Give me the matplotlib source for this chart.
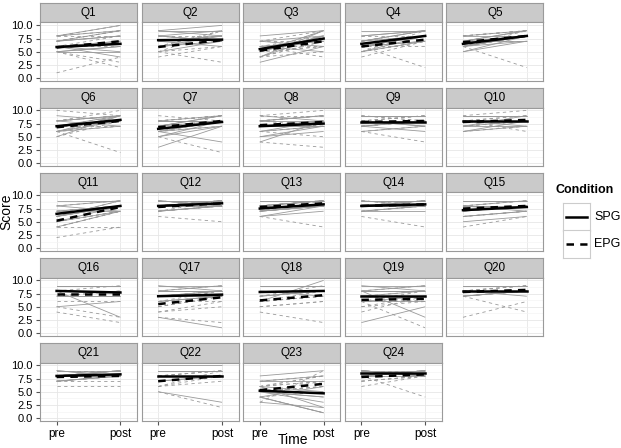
import numpy as np
import matplotlib
matplotlib.use('Agg')
import matplotlib.pyplot as plt

plt.rcParams['font.family'] = ['Liberation Sans', 'DejaVu Sans']

questions = ['Q%d' % i for i in range(1, 25)]
times = ['pre', 'post']

# individual participants (integer scores 0-10), one row per question
spg_pre = [[5,6,7,8,6,5,7,6,8,7,5,6],[7,8,9,6,7,8,5,9,9,6,8,7],[5,6,4,7,5,6,8,4,6,5,7,3],
           [6,7,5,8,6,7,6,9,7,5,8,6],[6,7,5,8,6,7,7,6,7,6,8,5],[7,6,8,9,7,6,5,8,6,8,7,7],
           [3,6,7,8,6,5,7,8,5,7,8,6],[4,6,7,8,9,7,5,8,7,6,8,5],[8,7,9,6,8,9,7,8,9,8,7,8],
           [8,7,9,8,6,9,8,7,9,7,8,6],[4,5,6,7,8,9,6,7,8,6,5,7],[8,9,7,8,9,8,7,9,8,7,9,8],
           [7,8,9,7,8,6,8,7,8,7,9,6],[8,9,7,8,9,7,8,8,9,8,7,8],[7,8,6,9,7,5,8,8,6,8,7,9],
           [8,9,7,8,9,5,8,9,8,7,9,8],[7,8,9,6,8,3,7,8,8,7,9,6],[8,9,7,8,9,6,8,8,7,8,9,8],
           [7,9,8,6,2,8,7,9,8,7,6,8],[8,9,7,8,9,8,7,8,9,8,7,8],[8,9,7,8,9,8,7,8,8,9,8,7],
           [8,9,7,5,9,8,8,10,9,8,7,8],[6,5,4,7,8,5,3,4,5,6,4,7],[8,9,8,9,8,9,8,9,8,9,9,8]]
spg_post = [[6,7,9,10,4,6,8,5,9,8,5,7],[8,7,10,7,6,9,7,8,9,8,7,8],[8,7,9,6,8,5,9,8,7,9,8,6],
            [8,9,7,9,8,8,7,9,9,8,9,7],[8,9,7,9,8,8,7,8,9,7,8,8],[8,9,9,8,8,7,9,7,8,9,8,9],
            [7,8,9,8,4,7,9,8,8,8,9,7],[8,7,8,9,8,7,6,9,7,8,8,7],[8,8,9,7,8,9,6,7,9,7,8,8],
            [8,9,9,7,8,9,8,7,9,8,8,7],[7,8,9,8,7,9,8,7,9,8,7,8],[9,8,8,9,8,9,8,9,9,8,9,8],
            [8,9,9,8,8,7,9,8,9,8,9,8],[8,9,8,9,8,7,9,8,9,8,8,9],[8,9,7,9,8,6,8,7,7,8,8,9],
            [8,9,7,8,9,6,3,9,8,7,9,8],[8,9,8,7,8,1,7,8,8,8,9,7],[8,9,8,8,9,10,7,8,8,8,9,8],
            [7,8,9,6,5,3,8,9,8,7,7,8],[8,9,8,8,9,7,8,8,9,8,8,8],[8,9,8,9,8,9,8,8,9,8,9,8],
            [8,9,8,3,9,8,8,10,9,8,8,8],[5,3,1,8,9,4,2,6,4,2,1,7],[9,8,9,8,9,8,9,8,9,8,9,8]]
epg_pre = [[1,5,6,8,7,6,8,7,6,8,5,7],[6,5,7,6,8,4,6,5,7,5,6,8],[4,5,6,7,5,4,6,5,5,6,7,4],
           [5,6,7,6,8,4,7,5,6,5,7,6],[7,6,8,7,6,8,6,7,7,6,8,7],[6,7,8,10,5,7,6,8,7,6,8,6],
           [7,8,6,5,7,8,6,9,7,6,8,7],[7,6,8,9,4,7,8,8,7,8,6,9],[8,7,9,6,8,9,7,6,8,9,7,8],
           [8,7,9,6,8,9,7,8,7,8,9,8],[2,4,5,6,5,7,4,8,6,5,7,4],[7,8,6,9,8,7,8,9,8,7,9,8],
           [8,9,7,6,8,9,8,8,7,8,9,8],[8,9,7,6,9,8,8,9,8,9,7,8],[8,9,7,4,8,6,9,8,7,8,8,6],
           [7,8,9,4,6,8,5,7,8,9,7,8],[5,6,4,3,7,5,8,6,5,6,7,4],[6,7,5,4,8,6,7,6,7,6,5,6],
           [6,7,5,8,6,4,7,6,7,6,5,8],[8,9,7,3,8,9,7,8,8,9,8,7],[8,7,9,6,8,9,7,8,8,7,8,9],
           [7,8,5,6,9,7,8,6,8,7,6,9],[5,6,4,7,5,6,3,5,6,5,4,6],[7,8,6,9,8,8,7,9,8,7,9,8]]
epg_post = [[4,2,7,9,8,6,10,9,8,8,3,9],[7,3,8,9,8,6,7,9,8,6,9,7],[7,6,8,9,6,7,4,9,8,6,7,5],
            [7,8,9,2,8,7,8,9,8,7,9,6],[8,9,9,7,2,9,8,8,9,8,9,8],[2,8,9,9,8,7,8,10,9,8,9,7],
            [8,9,7,2,8,9,8,8,9,8,9,8],[8,5,9,10,3,8,7,9,8,9,7,9],[9,8,8,4,8,9,8,7,9,8,8,9],
            [9,8,9,7,8,10,8,6,8,9,9,8],[4,4,8,9,7,8,7,9,8,7,8,7],[9,8,5,9,9,8,9,8,9,8,9,9],
            [9,9,8,4,8,9,9,8,9,8,9,9],[9,9,8,4,8,9,8,9,9,8,8,8],[8,9,8,6,9,7,9,8,8,9,8,7],
            [8,9,9,2,6,8,3,7,8,9,8,8],[7,8,6,2,8,7,9,7,7,6,8,5],[7,8,6,2,8,8,9,7,8,7,6,7],
            [7,8,6,9,1,7,6,8,7,6,7,8],[9,9,8,6,8,9,4,9,9,9,8,8],[8,8,9,6,8,9,7,9,8,8,9,9],
            [8,9,2,8,9,8,9,9,9,8,7,9],[7,8,1,8,6,7,9,6,7,6,5,8],[8,9,8,9,8,4,8,9,9,8,8,9]]

# condition means
spg_mean_pre = [5.9,7.2,5.5,6.5,6.5,7.0,6.5,7.0,7.8,8.0,6.5,8.0,7.5,8.0,7.2,8.0,7.0,7.8,7.0,8.0,8.0,8.0,5.2,8.5]
spg_mean_post = [6.5,7.3,7.5,8.0,8.0,8.2,7.8,7.5,7.8,8.0,8.0,8.5,8.3,8.3,7.8,7.7,7.3,8.0,7.0,8.0,8.3,8.0,4.7,8.5]
epg_mean_pre = [5.8,5.9,5.2,6.0,6.8,6.8,6.8,7.2,7.8,7.8,5.2,7.8,7.8,8.0,7.5,7.5,5.5,6.2,6.3,7.8,7.8,7.0,5.3,7.8]
epg_mean_post = [7.0,7.2,7.0,7.3,8.0,8.0,8.0,7.8,8.0,8.2,7.8,8.5,8.5,8.3,8.0,7.5,6.8,7.2,6.5,8.2,8.0,8.0,6.5,8.3]

W, H = 621, 448
fig = plt.figure(figsize=(W / 100, H / 100), dpi=100)

def box(x, y, w, h):
    return [x / W, 1 - (y + h) / H, w / W, h / H]

ncol = 5
for i, q in enumerate(questions):
    r, c = divmod(i, ncol)
    x0 = 40 + c * 101.6
    y0 = 3 + r * 85
    # strip
    sax = fig.add_axes(box(x0, y0, 97, 19.5))
    sax.set_facecolor('#cacaca')
    sax.set_xticks([]); sax.set_yticks([])
    for s in sax.spines.values():
        s.set_color('#9a9a9a'); s.set_linewidth(0.8)
    sax.text(0.5, 0.5, q, ha='center', va='center', fontsize=8.5, transform=sax.transAxes)
    # panel
    ax = fig.add_axes(box(x0, y0 + 19.5, 97, 58.5))
    ax.set_xlim(0.74, 2.26)
    ax.set_ylim(-0.55, 10.55)
    ax.set_yticks([0, 2.5, 5, 7.5, 10])
    ax.set_yticks([1.25, 3.75, 6.25, 8.75], minor=True)
    ax.set_xticks([1, 2])
    ax.grid(True, which='major', color='#e6e6e6', lw=0.6)
    ax.grid(True, which='minor', axis='y', color='#f4f4f4', lw=0.5)
    ax.set_axisbelow(True)
    for s in ax.spines.values():
        s.set_color('#9a9a9a'); s.set_linewidth(0.8)
    for a, b in zip(spg_pre[i], spg_post[i]):
        ax.plot([1, 2], [a, b], color='#9a9a9a', lw=0.6, solid_capstyle='butt')
    for a, b in zip(epg_pre[i], epg_post[i]):
        ax.plot([1, 2], [a, b], color='#9a9a9a', lw=0.6, ls=(0, (4, 4)))
    ax.plot([1, 2], [spg_mean_pre[i], spg_mean_post[i]], color='black', lw=1.8)
    ax.plot([1, 2], [epg_mean_pre[i], epg_mean_post[i]], color='black', lw=1.8, ls=(0, (3, 2.5)))
    ax.tick_params(which='both', length=3, width=0.8, color='#555555', labelsize=8, pad=2)
    ax.tick_params(which='minor', length=0)
    if c == 0:
        ax.set_yticklabels(['0.0', '2.5', '5.0', '7.5', '10.0'])
    else:
        ax.tick_params(axis='y', length=0, labelleft=False)
    if r == 4:
        ax.set_xticklabels(times, fontsize=8.5)
    else:
        ax.tick_params(axis='x', length=0, labelbottom=False)

fig.text(6 / W, 1 - 212 / H, 'Score', rotation=90, ha='center', va='center', fontsize=10)
fig.text(293 / W, 1 - 447 / H, 'Time', ha='center', va='bottom', fontsize=10)

# legend
fig.text(555 / W, 1 - 190 / H, 'Condition', fontsize=9, fontweight='bold', va='center')
for k, (lab, ls) in enumerate([('SPG', '-'), ('EPG', (0, (3, 2.5)))]):
    kax = fig.add_axes(box(563, 203 + k * 27.5, 27, 27.5))
    kax.set_xlim(0, 1); kax.set_ylim(0, 1)
    kax.set_xticks([]); kax.set_yticks([])
    for s in kax.spines.values():
        s.set_color('#cccccc'); s.set_linewidth(0.8)
    kax.plot([0.1, 0.9], [0.5, 0.5], color='black', lw=1.8, ls=ls)
    fig.text(594 / W, 1 - (216.5 + k * 27.5) / H, lab, fontsize=9, va='center')

fig.savefig('out.png', dpi=100)
